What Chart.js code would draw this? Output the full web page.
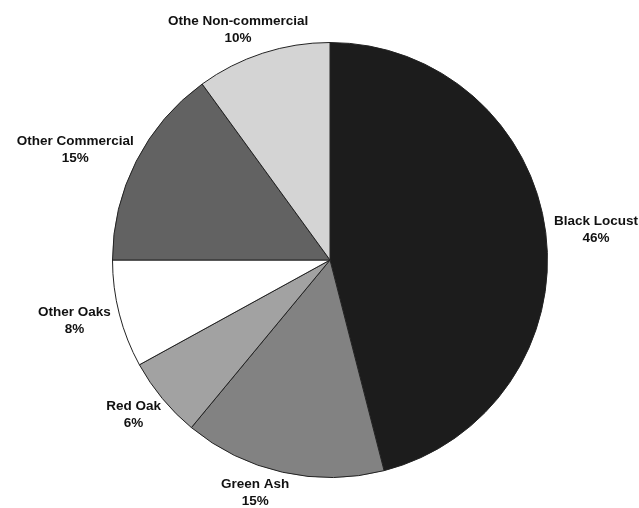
<!DOCTYPE html>
<html>
<head>
<meta charset="utf-8">
<script src="https://cdn.jsdelivr.net/npm/chart.js@4"></script>
<style>
  html, body { margin: 0; padding: 0; background: #fff; }
  #wrap { width: 639px; height: 508px; }
</style>
</head>
<body>
<div id="wrap"><canvas id="pie-chart"></canvas></div>
<script>
// species share of trees, percent (clockwise from 12 o'clock)
var species = ["Black Locust", "Green Ash", "Red Oak", "Other Oaks", "Other Commercial", "Othe Non-commercial"];
var shares = [46, 15, 6, 8, 15, 10];
var fills = ["#1c1c1c", "#828282", "#a2a2a2", "#ffffff", "#626262", "#d4d4d4"];

// draws "name / pct%" outside each slice, pushed away along the slice's mid angle.
// if the box runs off the top/bottom, slide it round the circle until it fits
var outsideLabels = {
    id: 'outsideLabels',
    afterDatasetsDraw: function(chart) {
        var ctx = chart.ctx;
        var meta = chart.getDatasetMeta(0);
        ctx.save();
        ctx.font = 'bold 13.5px "Liberation Sans", Arial, sans-serif';
        ctx.fillStyle = '#111111';
        ctx.textAlign = 'center';
        ctx.textBaseline = 'middle';
        var lineH = 17;
        meta.data.forEach(function(arc, i) {
            var p = arc.getProps(['x', 'y', 'startAngle', 'endAngle', 'outerRadius'], true);
            var mid = (p.startAngle + p.endAngle) / 2;
            var lines = [species[i], shares[i] + '%'];
            var w = Math.max(ctx.measureText(lines[0]).width, ctx.measureText(lines[1]).width);
            var h = lineH + 13;
            var c = Math.cos(mid);
            var s = Math.sin(mid);
            var dir = (s > 0 ? -1 : 1) * (c >= 0 ? 1 : -1);
            var cx, cy;
            for (var k = 0; k < 60; k++) {
                var a = mid + dir * k * 0.01;
                var dx = Math.cos(a), dy = Math.sin(a);
                var ax = p.x + dx * (p.outerRadius + 10);
                var ay = p.y + dy * (p.outerRadius + 10);
                cx = ax + dx * w / 2;
                cy = ay + dy * h / 2;
                if (cy - h / 2 >= 0 && cy + h / 2 <= chart.height) break;
            }
            cx = Math.min(Math.max(cx, w / 2 + 1), chart.width - w / 2 - 1);
            ctx.fillText(lines[0], cx, cy - lineH / 2);
            ctx.fillText(lines[1], cx, cy + lineH / 2);
        });
        ctx.restore();
    }
};

new Chart(document.getElementById("pie-chart"), {
    type: 'pie',
    data: {
        labels: species,
        datasets: [
            {
                data: shares,
                backgroundColor: fills,
                borderColor: '#222222',
                borderWidth: 1
            }
        ]
    },
    options: {
        responsive: true,
        maintainAspectRatio: false,
        animation: false,
        layout: {
            padding: { top: 42, bottom: 30, left: 112, right: 91 }
        },
        plugins: {
            legend: { display: false },
            tooltip: { enabled: false }
        }
    },
    plugins: [outsideLabels]
});
</script>
</body>
</html>
